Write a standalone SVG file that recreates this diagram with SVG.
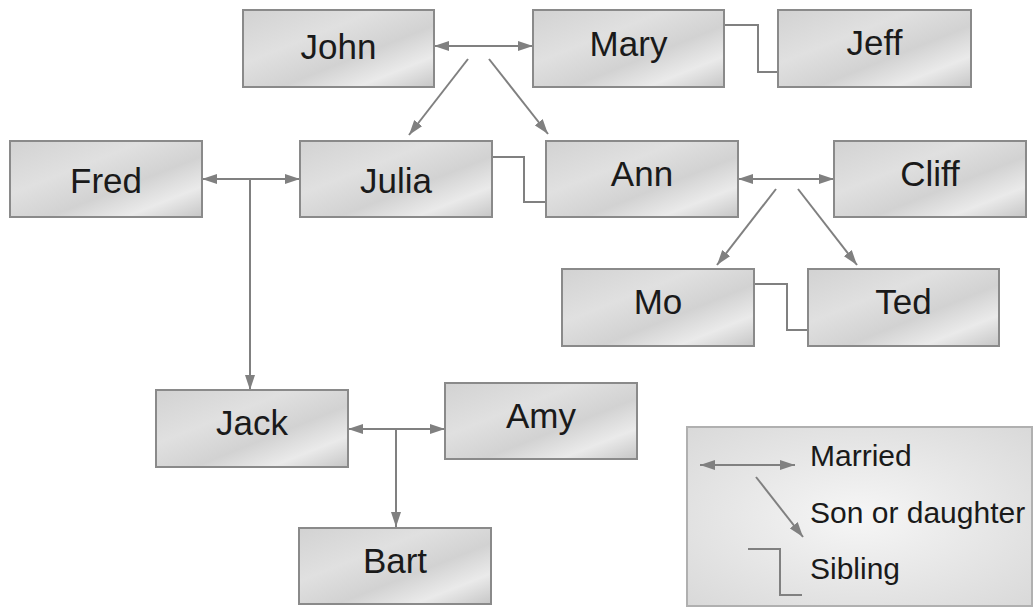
<svg xmlns="http://www.w3.org/2000/svg" width="1035" height="608" viewBox="0 0 1035 608">
<defs>
<linearGradient id="boxg" x1="0" y1="0" x2="1" y2="1">
<stop offset="0" stop-color="#d2d2d2"/>
<stop offset="0.35" stop-color="#e0e0e0"/>
<stop offset="0.6" stop-color="#d2d2d2"/>
<stop offset="0.8" stop-color="#eaeaea"/>
<stop offset="1" stop-color="#c6c6c6"/>
</linearGradient>
<radialGradient id="legg" cx="0.5" cy="0.5" r="0.7">
<stop offset="0" stop-color="#f6f6f6"/>
<stop offset="1" stop-color="#d9d9d9"/>
</radialGradient>
<marker id="ah" viewBox="0 0 15 10" refX="15" refY="5" markerWidth="15" markerHeight="10" markerUnits="userSpaceOnUse" orient="auto-start-reverse">
<path d="M0,0 L15,5 L0,10 z" fill="#808080"/>
</marker>
<style>
.box{fill:url(#boxg);stroke:#8a8a8a;stroke-width:2}
.lbl{font-family:"Liberation Sans",Arial,sans-serif;font-size:35px;fill:#1a1a1a;text-anchor:middle}
.leg{font-family:"Liberation Sans",Arial,sans-serif;font-size:30px;fill:#1a1a1a}
.ln{fill:none;stroke:#808080;stroke-width:2}
</style>
</defs>
<rect width="1035" height="608" fill="#ffffff"/>
<g id="connectors">
<line class="ln" x1="434" y1="46" x2="533" y2="46" marker-start="url(#ah)" marker-end="url(#ah)"/>
<line class="ln" x1="468" y1="59" x2="409" y2="135" marker-end="url(#ah)"/>
<line class="ln" x1="489" y1="59" x2="548" y2="134" marker-end="url(#ah)"/>
<polyline class="ln" points="724,25 758,25 758,72 778,72"/>
<line class="ln" x1="202" y1="179" x2="300" y2="179" marker-start="url(#ah)" marker-end="url(#ah)"/>
<line class="ln" x1="250" y1="179" x2="250" y2="390" marker-end="url(#ah)"/>
<polyline class="ln" points="492,157 524,157 524,202 546,202"/>
<line class="ln" x1="738" y1="179" x2="834" y2="179" marker-start="url(#ah)" marker-end="url(#ah)"/>
<line class="ln" x1="776" y1="189" x2="717" y2="265" marker-end="url(#ah)"/>
<line class="ln" x1="798" y1="189" x2="857" y2="265" marker-end="url(#ah)"/>
<polyline class="ln" points="754,284 787,284 787,330 808,330"/>
<line class="ln" x1="348" y1="429" x2="445" y2="429" marker-start="url(#ah)" marker-end="url(#ah)"/>
<line class="ln" x1="396" y1="429" x2="396" y2="527" marker-end="url(#ah)"/>
</g>
<g id="john"><rect class="box" x="243" y="10" width="191" height="77"/><text class="lbl" x="338.5" y="59">John</text></g>
<g id="mary"><rect class="box" x="533" y="10" width="191" height="77"/><text class="lbl" x="628.5" y="56">Mary</text></g>
<g id="jeff"><rect class="box" x="778" y="10" width="193" height="77"/><text class="lbl" x="874.5" y="55">Jeff</text></g>
<g id="fred"><rect class="box" x="10" y="141" width="192" height="76"/><text class="lbl" x="106" y="193">Fred</text></g>
<g id="julia"><rect class="box" x="300" y="141" width="192" height="76"/><text class="lbl" x="396" y="193">Julia</text></g>
<g id="ann"><rect class="box" x="546" y="141" width="192" height="76"/><text class="lbl" x="642" y="186">Ann</text></g>
<g id="cliff"><rect class="box" x="834" y="141" width="192" height="76"/><text class="lbl" x="930" y="186">Cliff</text></g>
<g id="mo"><rect class="box" x="562" y="269" width="192" height="77"/><text class="lbl" x="658" y="314">Mo</text></g>
<g id="ted"><rect class="box" x="808" y="269" width="191" height="77"/><text class="lbl" x="903.5" y="314">Ted</text></g>
<g id="jack"><rect class="box" x="156" y="390" width="192" height="77"/><text class="lbl" x="252" y="435">Jack</text></g>
<g id="amy"><rect class="box" x="445" y="383" width="192" height="76"/><text class="lbl" x="541" y="428">Amy</text></g>
<g id="bart"><rect class="box" x="299" y="528" width="192" height="76"/><text class="lbl" x="395" y="573">Bart</text></g>
<g id="legend">
<rect x="687" y="427" width="345" height="179" fill="url(#legg)" stroke="#b0b0b0" stroke-width="2"/>
<line class="ln" x1="700" y1="465" x2="795" y2="465" marker-start="url(#ah)" marker-end="url(#ah)"/>
<line class="ln" x1="756" y1="477" x2="803" y2="537" marker-end="url(#ah)"/>
<polyline class="ln" points="748,549 780,549 780,595 802,595"/>
<text class="leg" x="810" y="466">Married</text>
<text class="leg" x="810" y="523">Son or daughter</text>
<text class="leg" x="810" y="579">Sibling</text>
</g>
</svg>
